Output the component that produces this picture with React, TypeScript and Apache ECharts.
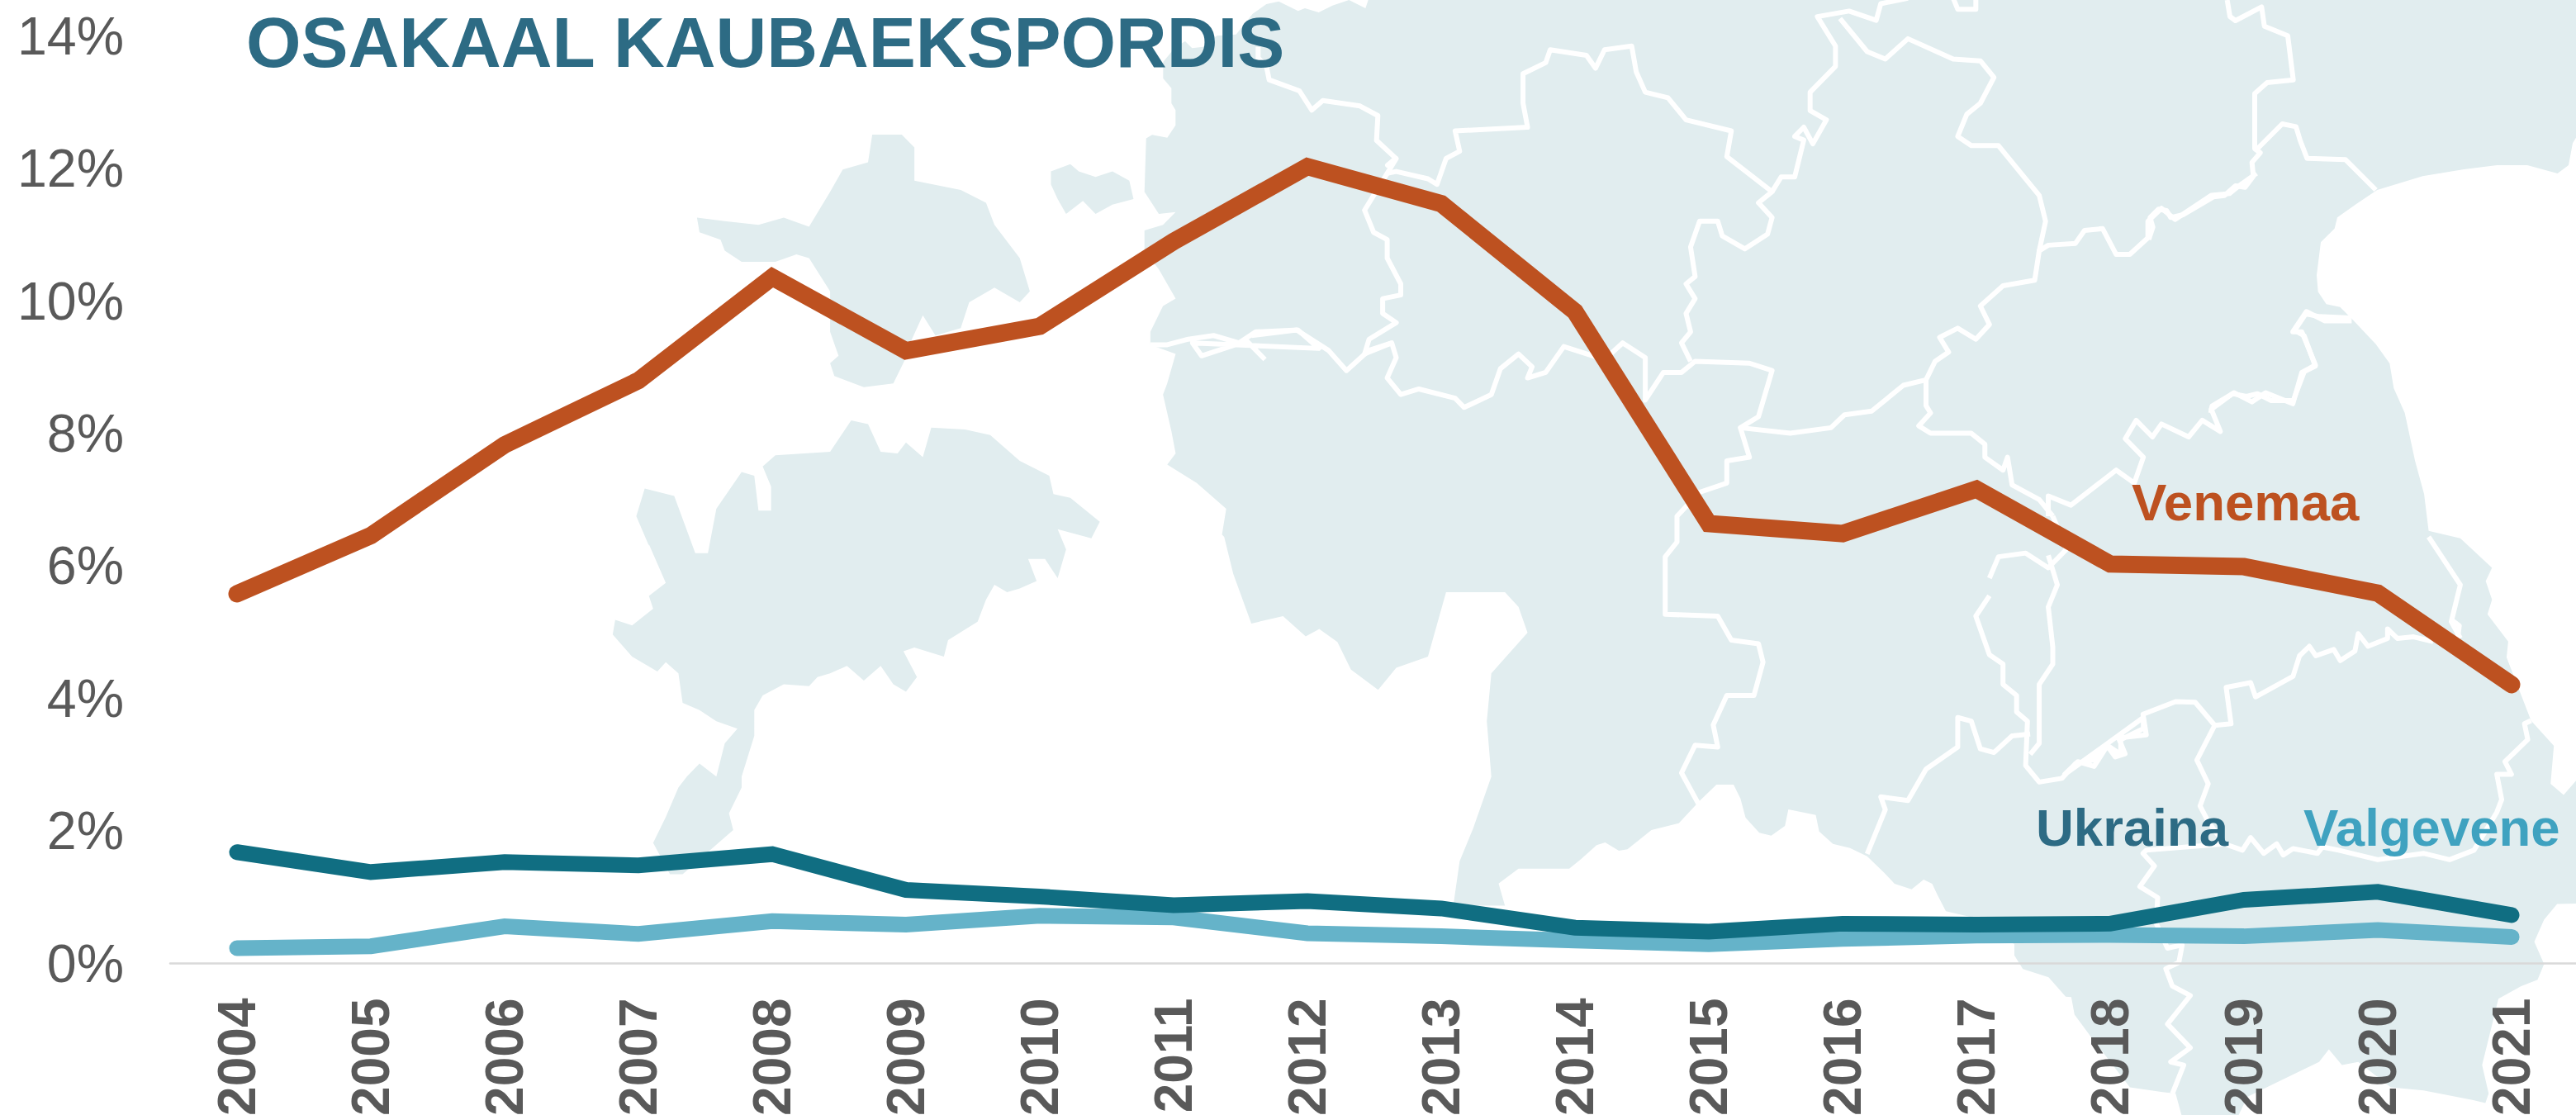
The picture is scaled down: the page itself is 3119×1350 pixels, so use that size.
import React, { useEffect, useRef } from "react";
import * as echarts from "echarts";

const years = ["2004","2005","2006","2007","2008","2009","2010","2011","2012","2013","2014","2015","2016","2017","2018","2019","2020","2021"];
const venemaa = [5.58,6.46,7.83,8.80,10.36,9.25,9.62,10.9,12.03,11.47,9.84,6.64,6.49,7.16,6.03,5.99,5.59,4.21];
const ukraina = [1.68,1.38,1.53,1.48,1.65,1.11,1.01,0.88,0.94,0.83,0.54,0.48,0.60,0.585,0.60,0.96,1.08,0.73];
const valgevene = [0.23,0.26,0.56,0.445,0.64,0.585,0.72,0.695,0.455,0.41,0.345,0.29,0.37,0.42,0.43,0.41,0.505,0.40];
const titleText = "OSAKAAL KAUBAEKSPORDIS";

type P = number[];
const tf = (x0: number, y0: number, sx: number, sy: number) => (pts: P[]) => pts.map(([x, y]) => [x0 + x / sx, y0 + y / sy]);
const Z1 = tf(0, 0, 0.98, 2.24);
const Z2 = tf(1400, 0, 0.912, 2.24);
const Z3 = tf(0, 650, 0.98, 2.24);
const Z4 = tf(1400, 650, 0.912, 2.24);
const Z5 = tf(2500, 750, 2.533, 2.613);
const Z6 = tf(2600, 0, 3, 3);
const Z7 = tf(1900, 900, 2.412, 3);
const Z8 = tf(1380, 0, 3, 3);

const LAND = "#e1edef";

const mainland: P[] = [
  [1657, -5], [3125, -5], [3125, 167],
  ...Z6([[1557,500],[1545,520],[1530,600],[1490,630],[1380,600],[1270,600],[1150,615],[1000,640],[835,690],[760,740],[690,790],[680,830],[630,880],[615,1000],[620,1060],[650,1105],[700,1115],[745,1160],[830,1250],[880,1320],[895,1410],[935,1500]]),
  ...Z2([[1390,1250],[1400,1340],[1405,1440],[1440,1460],[1475,1540],[1468,1568]]),
  ...Z4([[1475,85],[1468,120],[1475,170],[1470,210]]),
  ...Z5([[1360,70],[1355,120],[1400,240],[1430,320],[1500,400],[1490,520],[1530,555],[1568,510]]),
  [3125, 945], [3125, 1094],
  ...Z5([[1510,900],[1470,950],[1440,1020],[1470,1090],[1450,1140],[1400,1160],[1330,1200],[1280,1410],[1300,1500],[1290,1530],[1250,1520],[1100,1490],[1000,1480],[900,1400],[850,1410],[810,1360],[780,1400],[640,1470],[560,1510],[530,1575],[360,1575],[340,1500],[300,1495],[200,1480],[80,1320],[30,1250],[20,1195]]),
  ...Z7([[1450,920],[1400,850],[1325,820],[1300,770],[1300,730],[1170,630],[1100,610],[1075,550],[1060,510],[1035,495],[1000,530],[950,510],[920,470],[870,410],[820,380],[770,365],[730,320],[720,260],[640,240],[630,300],[590,335],[555,325],[515,270],[500,200],[480,150],[430,150],[380,210],[365,230],[320,290],[240,315],[170,385],[145,390],[105,360],[80,370],[35,420],[0,455]]),
  ...Z4([[430,900],[400,900],[378,940],[385,1000],[328,1000],[335,880],[350,790],[370,650],[365,500],[370,370],[410,260],[400,190],[385,150],[320,150],[300,325],[265,355],[245,415],[215,360],[200,285],[180,250],[165,270],[140,215],[105,235],[85,100],[75,0]]),
  ...Z1([[1450,1450],[1455,1380],[1420,1310],[1385,1260],[1395,1230],[1390,1170],[1380,1070],[1385,1040],[1395,960],[1365,935],[1365,900],[1380,830],[1395,810],[1375,730],[1358,680],[1358,625],[1380,610],[1395,575],[1375,580],[1358,520],[1360,375]]),
  ...Z8([[45,490],[100,500],[130,455],[130,400],[115,375],[115,320],[85,285],[85,225],[130,170],[165,150],[190,175],[230,170],[280,130],[350,125],[410,50],[460,15],[505,5],[575,40],[600,30],[650,45],[700,20],[760,0],[820,30],[830,0]]),
];

const islandA = Z1([[827,590],[860,600],[900,610],[930,590],[960,615],[985,520],[1000,460],[1030,440],[1035,365],[1070,365],[1085,400],[1085,490],[1140,515],[1170,550],[1180,610],[1210,700],[1222,790],[1210,820],[1180,780],[1150,820],[1140,890],[1110,910],[1095,855],[1080,930],[1075,970],[1060,1040],[1025,1050],[990,1020],[985,985],[995,965],[985,900],[985,790],[960,700],[945,690],[920,710],[880,710],[860,680],[855,650],[830,630]]);
const islandB = Z1([[1247,465],[1270,445],[1280,465],[1300,480],[1320,465],[1340,490],[1345,540],[1320,555],[1300,580],[1285,545],[1265,580],[1255,540],[1247,500]]);
const islandC: P[] = [
  ...Z1([[1010,1140],[1030,1150],[1045,1225],[1065,1230],[1075,1200],[1095,1240],[1105,1160],[1145,1165],[1175,1180],[1210,1250],[1245,1290],[1250,1340],[1270,1350],[1305,1415],[1295,1460],[1255,1435],[1265,1490],[1255,1568]]),
  ...Z3([[1240,60],[1220,60],[1230,120],[1210,140],[1195,150],[1180,130],[1170,170],[1160,230],[1125,280],[1120,325],[1085,300],[1072,310],[1088,380],[1075,420],[1060,400],[1045,350],[1025,390],[1005,350],[985,370],[970,380],[960,405],[930,400],[905,430],[895,470],[895,540],[880,650],[880,680],[865,750],[870,795],[850,835],[810,915],[795,915],[775,830],[790,760],[805,680],[815,650],[830,615],[850,650],[860,560],[875,520],[850,500],[830,470],[810,450],[805,370],[790,340],[780,365],[750,325],[727,265],[730,225],[750,240],[775,195],[770,160],[790,125],[770,20]]),
  ...Z1([[770,1480],[755,1400],[765,1325],[800,1345],[825,1500],[840,1500],[850,1380],[880,1280],[895,1290],[900,1385],[915,1385],[915,1320],[905,1265],[920,1235],[985,1225]]),
];

const borders: P[][] = [
  [...Z1([[1365,935],[1385,935],[1410,920],[1440,910],[1470,930],[1490,900],[1540,895],[1565,945]]),
   ...Z2([[40,930],[50,965],[100,925],[120,975]])],
  Z2([[105,910],[155,895],[190,950],[210,1005],[235,950],[260,930],[265,970],[255,1025],[270,1070],[290,1055],[330,1080],[340,1105],[370,1070],[380,1000],[400,960],[415,995],[410,1025],[430,1010],[450,940],[495,975],[515,930],[540,970],[540,1085],[560,1010],[580,1010],[595,980],[655,985],[680,1005],[665,1130],[645,1160],[700,1175],[745,1160],[760,1125],[790,1115],[825,1045],[850,1030],[860,980],[875,955],[865,915],[885,890],[905,920],[920,880],[910,830],[935,775],[970,760],[975,680],[985,665],[1015,660],[1025,625],[1045,620],[1060,690],[1075,690],[1095,645],[1095,600],[1110,565],[1125,595],[1165,530],[1185,525],[1195,505],[1215,470]]),
  [...Z2([[645,1160],[655,1240],[630,1250],[630,1310],[600,1335],[575,1400],[575,1470],[562,1510],[562,1568]]),
   ...Z4([[562,210],[620,215],[635,280],[665,290],[670,340],[660,430],[630,430],[615,510],[620,570],[595,565],[580,640],[600,730]])],
  [...Z8([[430,170],[430,210],[460,240],[470,290],[580,330],[625,400],[665,365],[800,385],[865,420],[860,510],[930,575],[900,600]]),
   ...Z2([[265,430],[255,470],[230,570],[240,630],[255,650],[255,700],[270,770],[270,800],[250,810],[250,850],[265,875],[235,920],[230,960],[260,930]])],
  Z2([[255,470],[265,465],[300,485],[310,500],[320,430],[335,410],[330,355],[410,345],[405,280],[405,200],[430,170],[435,135],[475,150],[485,185],[495,135],[525,125],[530,195],[540,250],[565,265],[585,325],[635,355],[630,425],[680,520],[665,550],[680,590],[675,635],[650,675],[625,640],[620,600],[600,600],[590,670],[595,750],[585,770],[595,810],[585,850],[590,900],[580,930],[590,980]]),
  Z2([[680,520],[690,480],[705,480],[715,380],[705,370],[715,345],[725,390],[740,325],[722,300],[722,250],[750,180],[750,125],[730,45],[765,30],[795,55],[800,10],[830,-5]]),
  Z2([[755,50],[785,140],[805,160],[830,105],[880,160],[910,165],[925,210],[910,280],[895,310],[885,370],[900,395],[930,395],[955,470],[975,530],[982,600],[975,680]]),
  Z2([[880,-5],[885,25],[905,25],[905,-5]]),
  Z6([[290,0],[300,60],[320,75],[415,25],[425,95],[510,130],[530,290],[435,300],[390,340],[390,540],[410,555],[380,590],[385,640],[355,680],[320,675],[280,710],[240,715],[130,780],[85,790],[70,765],[40,760],[10,790],[20,825],[5,870]]),
  Z6([[400,540],[490,450],[540,460],[555,510],[580,575],[720,580],[830,690]]),
  Z6([[230,1500],[235,1475],[310,1430],[360,1440],[400,1430],[450,1455],[530,1455],[570,1350],[610,1330],[570,1220],[535,1200],[575,1140],[625,1150],[740,1155]]),
  Z2([[850,1030],[850,1100],[855,1120],[842,1155],[855,1175],[900,1175],[915,1205],[915,1240],[935,1275],[940,1240],[945,1315],[975,1355],[990,1400]]),
  Z4([[985,50],[995,130],[985,190],[990,300],[990,345],[975,400],[975,470],[975,560],[965,590]]),
  Z2([[985,1400],[985,1345],[1010,1370],[1060,1275],[1080,1310],[1090,1240],[1070,1190],[1082,1140],[1100,1185],[1110,1150],[1140,1185],[1155,1140],[1175,1170],[1165,1110],[1190,1065],[1210,1090],[1225,1065],[1255,1095],[1265,1010],[1280,990],[1265,900],[1255,900],[1270,845],[1290,870],[1320,870]]),
  Z2([[990,1400],[1005,1490],[985,1540],[960,1500],[930,1510],[920,1568]]),
  [...Z4([[920,160],[905,215],[920,320],[935,345],[935,400],[950,430],[950,475],[962,500],[960,620],[975,665],[1000,655],[1015,615],[1035,605],[1050,565],[1065,590],[1065,550],[1090,520],[1090,490]]),
   ...Z5([[0,490],[40,450],[90,465],[130,400],[155,435],[185,425],[165,375],[250,365],[240,300],[340,260],[400,262],[460,335],[510,330],[495,215],[570,200],[585,245],[700,180],[720,115],[750,85],[770,115],[825,95],[845,130],[890,100],[900,45],[930,85],[990,60],[990,30],[1020,60],[1070,55],[1130,70]])],
  Z5([[1185,0],[1210,20],[1205,60]]),
  Z4([[1405,0],[1440,130],[1430,230],[1440,275]]),
  Z5([[1430,320],[1410,330],[1420,380],[1350,450],[1370,490],[1325,490],[1340,570],[1325,610],[1255,730],[1180,760],[1100,740],[960,760],[840,730],[790,720],[775,740],[700,725],[670,745],[650,710],[610,740],[570,690],[545,730],[490,710],[250,730],[240,740],[275,780],[230,845],[285,880],[280,960],[315,1040],[360,1030],[350,1085],[310,1105],[330,1160],[385,1190],[315,1280],[385,1355],[325,1400],[365,1410],[330,1500]]),
  Z5([[460,335],[405,445],[440,520],[415,590],[440,640],[490,710]]),
  Z4([[965,535],[945,540],[925,585],[910,575],[900,500],[885,490],[885,570],[850,630],[830,715],[800,705],[805,740],[785,860]]),
];

const landGraphics = [
  ...[mainland, islandA, islandB, islandC].map((points) => ({
    type: "polygon", silent: true, z: -10, shape: { points }, style: { fill: LAND },
  })),
  ...borders.map((points) => ({
    type: "polyline", silent: true, z: -9, shape: { points },
    style: { stroke: "#ffffff", lineWidth: 6, fill: "none", lineJoin: "round" },
  })),
];

const FONT = '"Liberation Sans", Arial, sans-serif';
const seriesLabels = [
  { text: "Venemaa", x: 2581, y: 608, fill: "#bd5120" },
  { text: "Ukraina", x: 2465, y: 1002, fill: "#2d6b84" },
  { text: "Valgevene", x: 2789, y: 1002, fill: "#3fa2c0" },
];

const mkSeries = (name: string, data: number[], color: string, z: number, width: number) => ({
  name, type: "line", data, z, symbol: "none", smooth: false, clip: false, silent: true,
  lineStyle: { color, width, cap: "round", join: "miter" },
});

export default function App() {
  const ref = useRef<HTMLDivElement>(null);
  useEffect(() => {
    document.body.style.margin = "0";
    const chart = echarts.init(ref.current!, null, { renderer: "svg" });
    chart.setOption({
      animation: false,
      backgroundColor: "#ffffff",
      title: {
        text: titleText, left: 293, top: 3, z: 20,
        textStyle: { fontFamily: FONT, fontWeight: "bold", fontSize: 85.5, color: "#2d6b84" },
      },
      grid: { left: 206, top: 43.7, width: 2916, height: 1122.8, containLabel: false, outerBoundsMode: "none" },
      xAxis: {
        type: "category", data: years, boundaryGap: true,
        axisLine: { show: true, lineStyle: { color: "#d9d9d9", width: 2.5 } },
        axisTick: { show: false },
        splitLine: { show: false },
        axisLabel: { interval: 0, rotate: 90, margin: 42, fontFamily: FONT, fontWeight: "bold", fontSize: 64, color: "#595959" },
      },
      yAxis: {
        type: "value", min: 0, max: 14, interval: 2,
        axisLine: { show: false }, axisTick: { show: false }, splitLine: { show: false },
        axisLabel: { margin: 56, fontFamily: FONT, fontSize: 64.5, color: "#595959", formatter: "{value}%" },
      },
      graphic: [
        ...landGraphics,
        ...seriesLabels.map((l) => ({
          type: "text", silent: true, z: 20, x: l.x, y: l.y,
          style: { text: l.text, fill: l.fill, font: `bold 63.5px ${FONT}`, textAlign: "left", textVerticalAlign: "middle" },
        })),
      ],
      series: [
        mkSeries("Valgevene", valgevene, "#65b3c9", 3, 19),
        mkSeries("Ukraina", ukraina, "#106e82", 4, 19),
        mkSeries("Venemaa", venemaa, "#bd5120", 5, 21),
      ],
    });
    return () => chart.dispose();
  }, []);
  return <div ref={ref} style={{ position: "fixed", left: 0, top: 0, width: 3119, height: 1350 }} />;
}
